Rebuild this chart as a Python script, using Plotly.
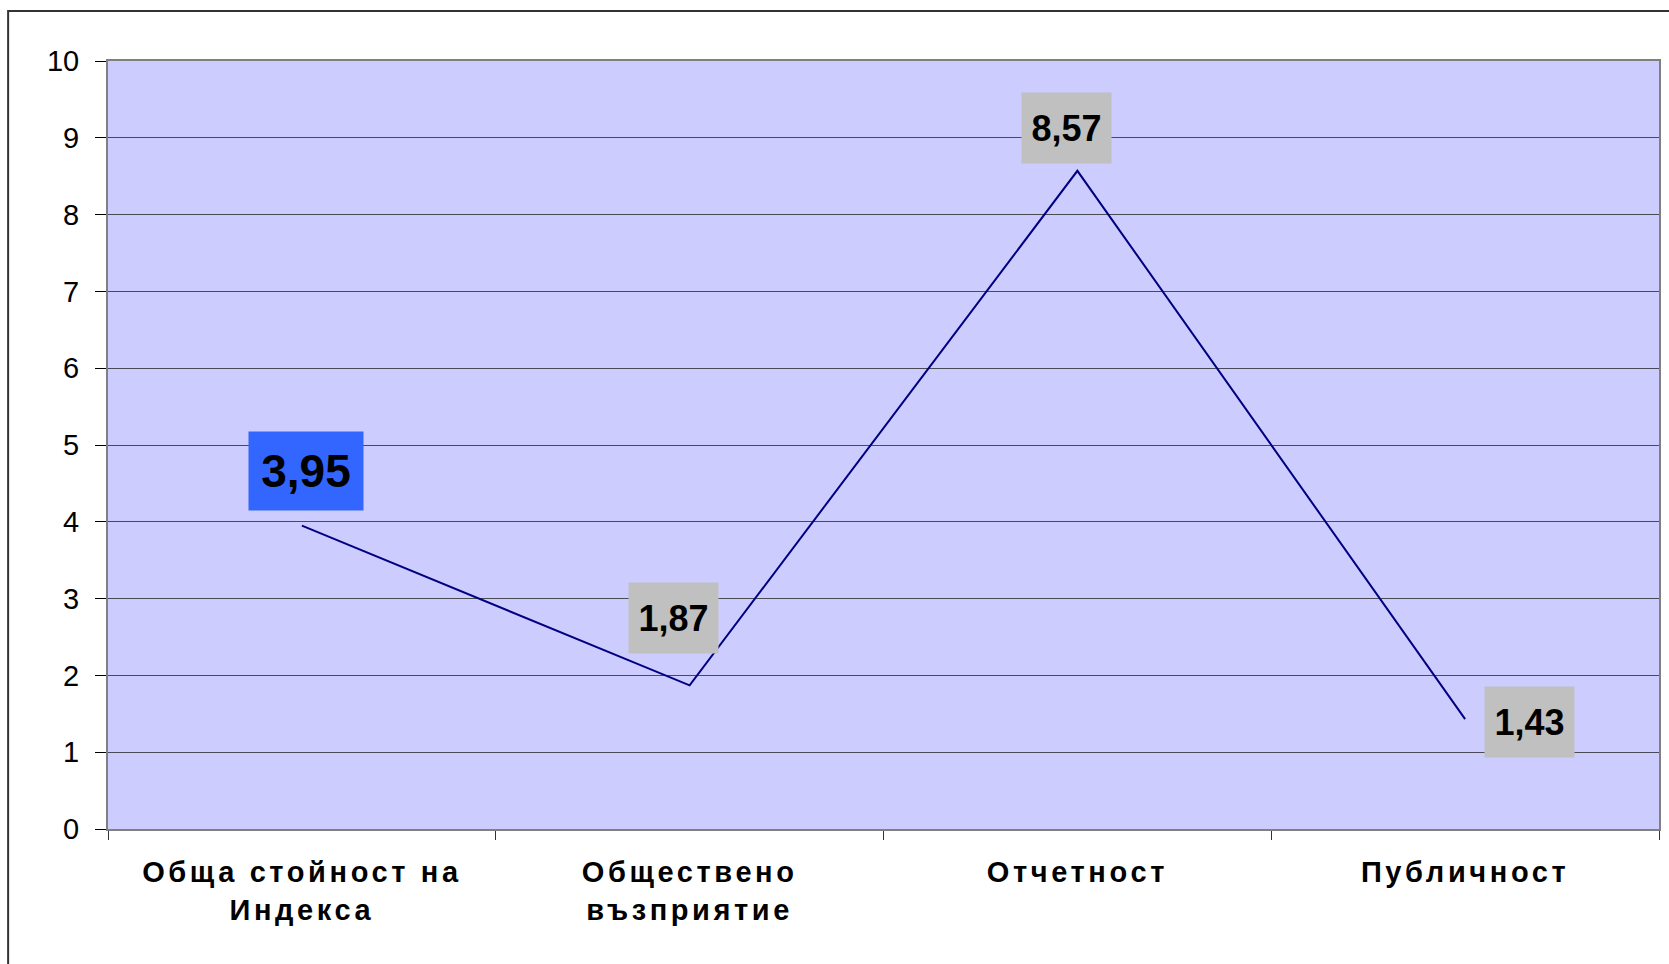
import plotly.graph_objects as go

categories = ["Обща стойност на<br>Индекса", "Обществено<br>възприятие", "Отчетност", "Публичност"]
values = [3.95, 1.87, 8.57, 1.43]
y_ticks = [0, 1, 2, 3, 4, 5, 6, 7, 8, 9, 10]

label_bg = ["#3366FF", "#C0C0C0", "#C0C0C0", "#C0C0C0"]
label_size = [46, 36, 36, 36]
label_w = [114, 89, 89, 89]
label_h = [78, 70, 70, 70]
label_dx = [4, -16, -11, 64]
label_dy = [55, 67, 43, -3]

FONT = "Arial, Liberation Sans, sans-serif"


def spaced(label):
    return "<br>".join('<span style="letter-spacing:3.6px">' + part + "</span>"
                       for part in label.split("<br>"))


fig = go.Figure()
fig.add_trace(go.Scatter(
    x=categories, y=values, mode="lines",
    line=dict(color="#000080", width=2),
    hoverinfo="skip", showlegend=False,
))

for c, v, bg, fs, w, h, dx, dy in zip(categories, values, label_bg, label_size,
                                         label_w, label_h, label_dx, label_dy):
    fig.add_annotation(
        x=c, y=v, text="<b>" + f"{v:.2f}".replace(".", ",") + "</b>",
        showarrow=False, xshift=dx, yshift=dy,
        width=w, height=h, borderpad=0, bgcolor=bg,
        font=dict(family=FONT, size=fs, color="black"),
        align="center", valign="middle",
    )

W, H = 1669, 964
L, R, T, B = 108, 8, 61, 135
pw, ph = W - L - R, H - T - B

fig.add_shape(
    type="rect", xref="paper", yref="paper",
    x0=(8 - L) / pw, x1=1.05, y0=-0.3, y1=(H - B - 11) / ph,
    line=dict(color="#333333", width=2), fillcolor="rgba(0,0,0,0)", layer="below",
)

fig.update_layout(
    width=W, height=H,
    margin=dict(l=L, r=R, t=T, b=B, pad=0),
    paper_bgcolor="white", plot_bgcolor="#CCCCFF",
    font=dict(family=FONT, color="black"),
    xaxis=dict(
        type="category", range=[-0.5, 3.5], tickson="boundaries",
        tickmode="array", tickvals=categories, ticktext=[spaced(c) for c in categories],
        ticks="outside", ticklen=9, tickcolor="#333333", tickwidth=1,
        showgrid=False, showline=True, linecolor="#808080", linewidth=2, mirror=True,
        tickfont=dict(family=FONT, size=29, color="black", weight="bold"),
        ticklabelstandoff=16,
    ),
    yaxis=dict(
        range=[0, 10], tickvals=y_ticks, ticktext=[str(t) for t in y_ticks],
        ticks="outside", ticklen=11, tickcolor="black", tickwidth=1,
        showgrid=True, gridcolor="#4a4a55", gridwidth=1, zeroline=False,
        showline=True, linecolor="#808080", linewidth=2, mirror=True,
        tickfont=dict(family=FONT, size=29, color="black"),
        ticklabelstandoff=10,
    ),
)

fig.write_html(
    "out.html",
    config={"displayModeBar": False},
    post_script="document.body.style.margin='0';document.body.style.overflow='hidden';",
)
